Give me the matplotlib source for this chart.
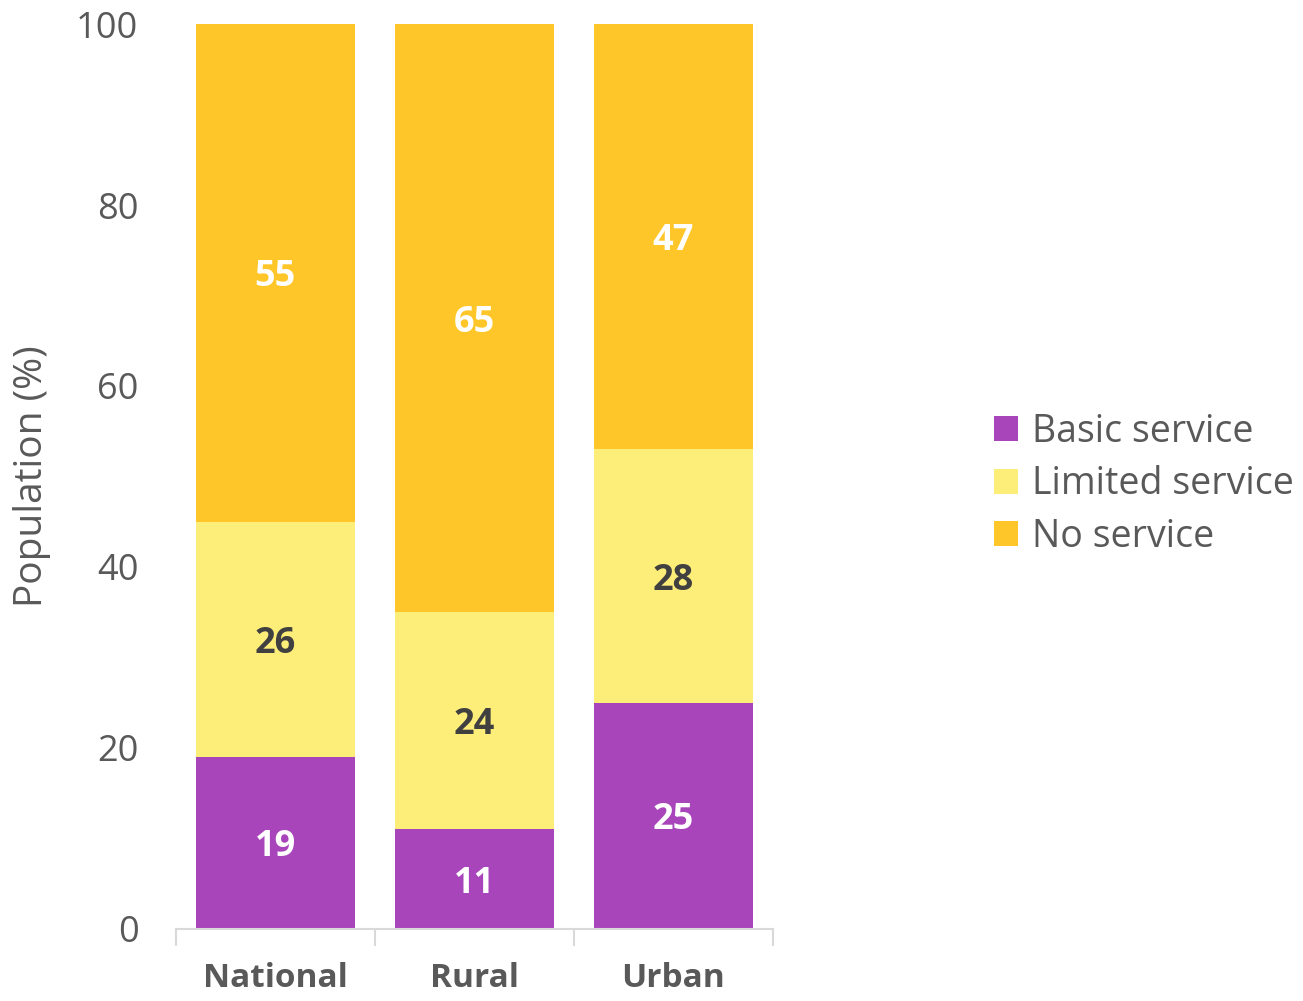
import numpy as np
import matplotlib.pyplot as plt
from matplotlib.patches import Patch

# Share of population by service level
areas = ["National", "Rural", "Urban"]
basic = [19, 11, 25]
limited = [26, 24, 28]
no_service = [55, 65, 47]

series_names = ["Basic service", "Limited service", "No service"]
series_colors = ["#A845BA", "#FDED79", "#FFC629"]
label_colors = ["white", "#404040", "white"]

plt.rcParams['font.family'] = ['Open Sans', 'DejaVu Sans']
grey = "#595959"

fig = plt.figure(figsize=(13.03, 10.01), dpi=100)
ax = fig.add_axes([0.135, 0.072, 0.458, 0.904])

x = np.arange(len(areas))
bottom = np.zeros(len(areas))
for values, color, txt_color in zip([basic, limited, no_service], series_colors, label_colors):
    vals = np.array(values, dtype=float)
    ax.bar(x, vals, width=0.8, bottom=bottom, color=color, linewidth=0)
    for xi, b, v in zip(x, bottom, vals):
        ax.text(xi, b + v / 2 - 0.5, f"{int(v)}", ha="center", va="center",
                fontsize=26, fontweight="bold", color=txt_color)
    bottom += vals

ax.set_xlim(-0.5, 2.5)
ax.set_ylim(0, 100)
ax.set_yticks(np.arange(0, 101, 20))
ax.tick_params(axis="y", length=0, labelsize=26, labelcolor=grey, pad=27)

# category labels without marks, separators as minor ticks
ax.set_xticks(x)
ax.set_xticklabels(areas, fontsize=24, fontweight="bold", color=grey)
ax.tick_params(axis="x", which="major", length=0, pad=24)
ax.set_xticks([-0.5, 0.5, 1.5, 2.5], minor=True)
ax.tick_params(axis="x", which="minor", length=12, color="#D9D9D9", width=1.5)

for side in ["left", "right", "top"]:
    ax.spines[side].set_visible(False)
ax.spines["bottom"].set_color("#D9D9D9")
ax.spines["bottom"].set_linewidth(1.5)

ax.set_ylabel("Population (%)", fontsize=28, color=grey, labelpad=18)

handles = [Patch(facecolor=c, edgecolor="none") for c in series_colors]
fig.legend(handles, series_names, loc="center left", bbox_to_anchor=(0.737, 0.516),
           frameon=False, fontsize=27, labelcolor=grey,
           handlelength=0.65, handleheight=0.65, handletextpad=0.35, labelspacing=0.39)

fig.savefig("out.png", dpi=100)
